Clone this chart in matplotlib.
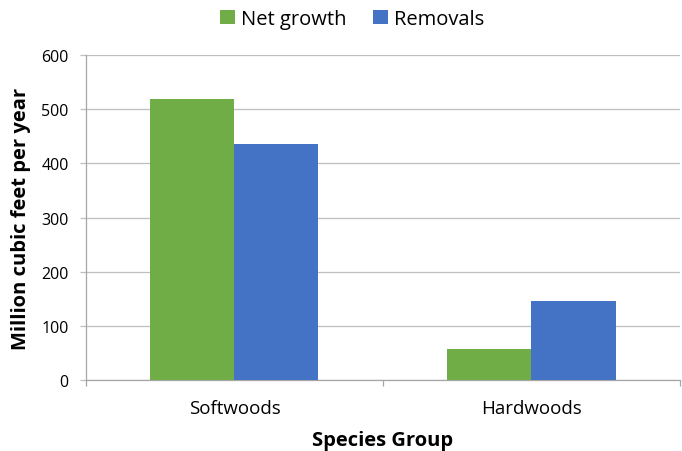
import matplotlib
matplotlib.use("Agg")
import matplotlib.pyplot as plt
import numpy as np

categories = ["Softwoods", "Hardwoods"]
series_names = ["Net growth", "Removals"]
net_growth = [518, 58]
removals = [436, 146]
colors = ["#70AD47", "#4472C4"]

plt.rcParams['font.family'] = ['Open Sans', 'DejaVu Sans']

fig = plt.figure(figsize=(6.82, 4.52), dpi=100)
ax = fig.add_axes([0.126, 0.157, 0.871, 0.719])

x = np.arange(len(categories))
w = 0.283
ax.bar(x - w/2, net_growth, w, color=colors[0], label=series_names[0], zorder=3)
ax.bar(x + w/2, removals, w, color=colors[1], label=series_names[1], zorder=3)

ax.set_xlim(-0.5, len(categories) - 0.5)
ax.set_ylim(0, 600)
ax.set_yticks(np.arange(0, 601, 100))
ax.yaxis.grid(True, color="#BFBFBF", linewidth=0.9, zorder=0)
ax.set_axisbelow(True)

ax.set_xticks(x)
ax.set_xticklabels(categories, fontsize=13.5)
ax.tick_params(axis='x', length=0, pad=14)
ax.set_xticks([-0.5, 0.5, 1.5], minor=True)
ax.tick_params(axis='x', which='minor', length=4.5, width=0.9, color="#A6A6A6", direction='out')
ax.tick_params(axis='y', length=4.5, width=0.9, color="#BFBFBF", labelsize=11.5, pad=8)

for s in ["top", "right"]:
    ax.spines[s].set_visible(False)
for s in ["left", "bottom"]:
    ax.spines[s].set_color("#A6A6A6")
    ax.spines[s].set_linewidth(0.9)

ax.set_xlabel("Species Group", fontsize=14.5, fontweight='bold')
ax.set_ylabel("Million cubic feet per year", fontsize=14.5, fontweight='bold')
ax.xaxis.set_label_coords(0.5, -0.155)
ax.yaxis.set_label_coords(-0.093, 0.5)

fig.legend(loc="center", bbox_to_anchor=(0.516, 1 - 20/452), ncol=2, frameon=False,
           fontsize=14.5, handlelength=0.75, handleheight=0.75, columnspacing=1.3, handletextpad=0.3)

fig.savefig("out.png", dpi=100)
